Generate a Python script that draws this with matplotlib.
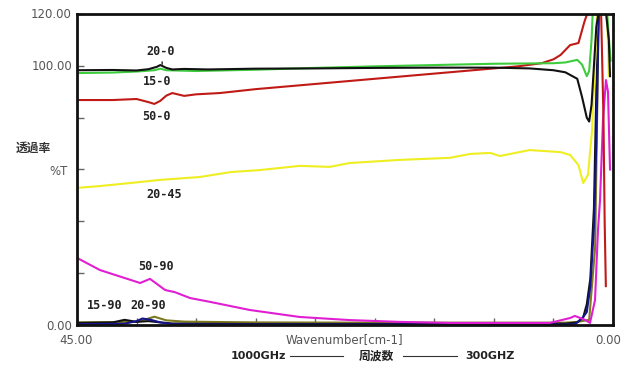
import matplotlib.pyplot as plt
from matplotlib.lines import Line2D

plt.rcParams['font.family'] = ['DejaVu Sans', 'Noto Sans CJK JP']

# ---- data (wavenumber cm-1 , %T) ----
# 20-0  black
x_20_0 = [45, 42, 40, 39, 38.3, 38, 37.5, 37, 36, 34, 30, 25, 20, 15, 10, 7, 5, 4, 3, 2.6, 2.2, 2.0, 1.8, 1.6, 1.4, 1.2, 0.6, 0.35, 0.25]
y_20_0 = [98.3, 98.4, 98.2, 98.7, 99.6, 100.3, 99.2, 98.6, 98.8, 98.6, 98.9, 99.0, 99.2, 99.3, 99.3, 99.0, 98.3, 97.5, 95, 88, 80, 78.5, 85, 100, 115, 121, 121, 110, 96]
# 15-0  green
x_15_0 = [45, 42, 40, 38.5, 38, 37.5, 35, 30, 25, 20, 15, 10, 5, 4, 3, 2.6, 2.2, 2.0, 1.8, 1.7, 0.5, 0.3, 0.2]
y_15_0 = [97.2, 97.4, 97.8, 98.3, 98.9, 98.3, 98.0, 98.5, 99.2, 99.8, 100.3, 100.8, 101.0, 101.3, 102.3, 100.5, 96.0, 98, 110, 121, 121, 108, 102]
# 50-0  red
x_50_0 = [45, 42, 40, 39, 38.5, 38, 37.5, 37, 36, 35, 33, 30, 25, 20, 15, 10, 8, 6, 5, 4.4, 3.6, 2.9, 2.4, 2.1, 1.0, 0.8, 0.7, 0.6]
y_50_0 = [86.8, 86.8, 87.2, 86.0, 85.3, 86.5, 88.5, 89.5, 88.4, 89.0, 89.5, 91.0, 93.0, 95.0, 97.0, 99.0, 99.8, 101, 102.5, 104.2, 108, 108.8, 117, 121, 121, 80, 40, 15]
# 20-45  yellow
x_20_45 = [45, 43.1, 40.5, 38.0, 34.7, 32.1, 29.6, 26.3, 23.8, 22.1, 17.9, 13.7, 12.0, 10.3, 9.5, 7.0, 4.4, 3.6, 2.9, 2.5, 2.1, 1.76, 1.5, 1.34, 0.5, 0.35]
y_20_45 = [52.9, 53.6, 54.8, 56.0, 57.1, 59.0, 59.8, 61.4, 61.0, 62.5, 63.7, 64.5, 66.0, 66.4, 65.2, 67.5, 66.7, 65.6, 61.7, 54.8, 57.9, 75, 102, 121, 121, 96]
# 50-90  magenta
x_50_90 = [45, 43.07, 40.5, 39.7, 38.87, 37.6, 36.8, 35.5, 33.8, 30.5, 26.3, 22.1, 17.9, 13.7, 9.5, 5.3, 3.6, 3.2, 2.35, 1.93, 1.51, 1.26, 1.09, 0.84, 0.59, 0.42, 0.25]
y_50_90 = [25.9, 21.2, 17.4, 16.2, 17.8, 13.5, 12.7, 10.4, 8.9, 5.8, 3.1, 1.9, 1.2, 0.8, 0.8, 0.8, 2.7, 3.5, 2.0, 0.8, 9.6, 36.7, 48, 79, 94.5, 90, 60]
# 15-90  black
x_15_90 = [45, 42, 41, 40, 39, 38, 37, 35, 30, 20, 10, 4, 3, 2.5, 2.2, 1.9, 1.6, 1.4, 1.2]
y_15_90 = [0.8, 1.0, 2.0, 1.2, 1.5, 1.0, 0.6, 0.5, 0.4, 0.4, 0.4, 0.5, 1.0, 3, 8, 18, 45, 90, 121]
# 20-90  navy
x_20_90 = [45, 41, 40, 39.5, 38.8, 38, 37, 35, 30, 20, 10, 4, 3.2, 2.6, 2.2, 1.9, 1.6, 1.4, 1.2]
y_20_90 = [0.3, 0.5, 1.5, 2.5, 2.0, 1.0, 0.3, 0.2, 0.2, 0.2, 0.2, 0.2, 0.3, 2.5, 5, 15, 38, 70, 121]
# olive trace near zero
x_olive = [45, 40, 39, 38.5, 38, 37.5, 36, 30, 20, 10, 4, 3, 2, 1.5, 1.2]
y_olive = [1.0, 1.2, 2.5, 3.2, 2.5, 1.8, 1.3, 1.0, 0.9, 0.9, 0.9, 1.2, 2.0, 30, 121]

labels = ['20-0', '15-0', '50-0', '20-45', '50-90', '15-90', '20-90']
label_x = [37.95, 38.3, 38.3, 37.7, 38.4, 42.7, 39.0]
label_y = [105.4, 93.8, 80.3, 50.2, 22.4, 7.7, 7.7]

fig = plt.figure(figsize=(6.33, 3.74), dpi=100)
ax = fig.add_axes([0.1216, 0.131, 0.8468, 0.8316])

lw = 1.5
ax.plot(x_olive, y_olive, color='#7d7a1e', lw=lw)
ax.plot(x_15_90, y_15_90, color='#111111', lw=lw)
ax.plot(x_20_90, y_20_90, color='#14148c', lw=lw)
ax.plot(x_50_90, y_50_90, color='#e01ed2', lw=lw)
ax.plot(x_20_45, y_20_45, color='#eeee22', lw=lw)
ax.plot(x_50_0, y_50_0, color='#c01a16', lw=lw)
ax.plot(x_15_0, y_15_0, color='#3ccc3c', lw=lw)
ax.plot(x_20_0, y_20_0, color='#111111', lw=lw)

ax.set_xlim(45, 0)
ax.set_ylim(0, 120)

for s in ax.spines.values():
    s.set_linewidth(2)
    s.set_color('#111111')

ax.set_yticks([0, 20, 40, 60, 80, 100, 120])
ax.set_xticks([0, 5, 10, 15, 20, 25, 30, 35, 40, 45])
ax.tick_params(direction='in', length=5, width=1, color='#666666',
               labelleft=False, labelbottom=False)

# curve labels
for t, lx, ly in zip(labels, label_x, label_y):
    ax.text(lx, ly, t, ha='center', va='center', fontsize=8.5,
            fontweight='bold', family='DejaVu Sans Mono', color='#222222')
ax.annotate('', xy=(37.85, 100.6), xytext=(37.85, 102.6),
            arrowprops=dict(arrowstyle='-', color='#222222', lw=1))

# axis texts in pixel layout
W, H = 633, 374
def ftext(px, py, s, **kw):
    fig.text(px / W, 1 - py / H, s, **kw)

gray = '#555555'
ftext(72, 14, '120.00', ha='right', va='center', fontsize=8.5, color=gray)
ftext(72, 67, '100.00', ha='right', va='center', fontsize=8.5, color=gray)
ftext(72, 326, '0.00', ha='right', va='center', fontsize=8.5, color=gray)
ftext(68, 171, '%T', ha='right', va='center', fontsize=8.5, color=gray)
ftext(33, 148, '透過率', ha='center', va='center', fontsize=8.5,
      fontweight='bold', family=['Noto Sans CJK JP'], color='#333333')
ftext(76, 340, '45.00', ha='center', va='center', fontsize=8.5, color=gray)
ftext(608, 340, '0.00', ha='center', va='center', fontsize=8.5, color=gray)
ftext(344, 340, 'Wavenumber[cm-1]', ha='center', va='center', fontsize=8.5, color=gray)

ftext(258, 356, '1000GHz', ha='center', va='center', fontsize=8,
      fontweight='bold', color='#222222')
ftext(376, 356, '周波数', ha='center', va='center', fontsize=8.5,
      fontweight='bold', family=['Noto Sans CJK JP'], color='#222222')
ftext(490, 356, '300GHZ', ha='center', va='center', fontsize=8,
      fontweight='bold', color='#222222')
for x0, x1 in [(290, 343), (403, 457)]:
    fig.add_artist(Line2D([x0 / W, x1 / W], [1 - 356 / H, 1 - 356 / H],
                          color='#333333', lw=0.8))

fig.savefig('out.png', dpi=100)
